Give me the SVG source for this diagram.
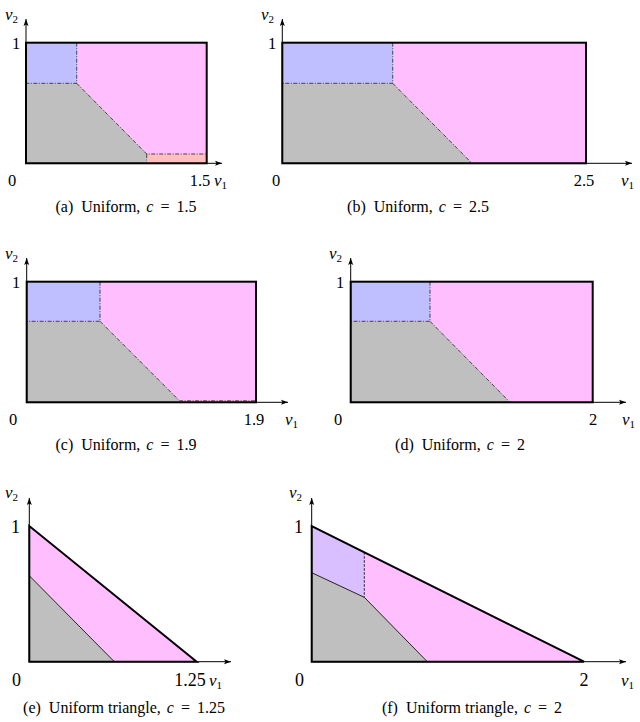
<svg xmlns="http://www.w3.org/2000/svg" width="640" height="722" viewBox="0 0 640 722">
<style>
.pink{fill:#FFBFFF}.blue{fill:#BFBFFF}.gray{fill:#BFBFBF}.salmon{fill:#FFBFBF}.lav{fill:#D9BFFF}
.frame{fill:none;stroke:#000;stroke-width:2}
.axis{fill:none;stroke:#000;stroke-width:1}
.dd{fill:none;stroke:#222;stroke-width:0.8;stroke-dasharray:4 1.5 1 1.5}
.sol{fill:none;stroke:#111;stroke-width:0.9}
.dash{fill:none;stroke:#111;stroke-width:0.9;stroke-dasharray:2.5 1.5}
text{font-family:"Liberation Serif","DejaVu Serif",serif;fill:#000}
.num{font-size:16.5px}
.big{font-size:18px}
.var{font-size:17px;font-style:italic}
.sub{font-size:11px;font-style:normal}
.cap{font-size:16px}
.it{font-style:italic}
</style>
<defs>
<marker id="ar" viewBox="0 0 8 6" refX="7" refY="3" markerWidth="8" markerHeight="6" markerUnits="userSpaceOnUse" orient="auto">
<path d="M0,0.5 L7,3 L0,5.5 L1.5,3 Z" fill="#000"/>
</marker>
</defs>

<g id="panel-a">
<rect class="pink" x="26" y="42.7" width="180.7" height="120.6"/>
<rect class="blue" x="26" y="42.7" width="50.7" height="40.6"/>
<polygon class="gray" points="26,83.3 76.7,83.3 146.7,154 146.7,163.3 26,163.3"/>
<rect class="salmon" x="146.7" y="154" width="60" height="9.3"/>
<path class="dd" d="M76.7,42.7V83.3H26M76.7,83.3L146.7,154H206.7M146.7,154V163.3"/>
<path class="axis" d="M26,163.3V19" marker-end="url(#ar)"/>
<path class="axis" d="M26,163.3H222" marker-end="url(#ar)"/>
<rect class="frame" x="26" y="42.7" width="180.7" height="120.6"/>
<text class="var" x="5" y="20">v<tspan class="sub" dy="3">2</tspan></text>
<text class="num" x="12" y="49">1</text>
<text class="num" x="8" y="186">0</text>
<text class="num" x="200" y="186" text-anchor="middle">1.5</text>
<text class="var" x="214" y="186">v<tspan class="sub" dy="3">1</tspan></text>
<text class="cap" x="126" y="212" text-anchor="middle">(a)<tspan dx="8">Uniform,</tspan><tspan class="it" dx="6">c</tspan><tspan dx="7">=</tspan><tspan dx="7">1.5</tspan></text>
</g>

<g id="panel-b">
<rect class="pink" x="282.3" y="42.7" width="303.7" height="120.6"/>
<rect class="blue" x="282.3" y="42.7" width="110.4" height="40.6"/>
<polygon class="gray" points="282.3,83.3 392.7,83.3 472,163.3 282.3,163.3"/>
<path class="dd" d="M392.7,42.7V83.3H282.3M392.7,83.3L472,163.3"/>
<path class="axis" d="M282.3,163.3V19" marker-end="url(#ar)"/>
<path class="axis" d="M282.3,163.3H632" marker-end="url(#ar)"/>
<rect class="frame" x="282.3" y="42.7" width="303.7" height="120.6"/>
<text class="var" x="261" y="20">v<tspan class="sub" dy="3">2</tspan></text>
<text class="num" x="268" y="49">1</text>
<text class="num" x="272" y="186">0</text>
<text class="num" x="584" y="186" text-anchor="middle">2.5</text>
<text class="var" x="621" y="186">v<tspan class="sub" dy="3">1</tspan></text>
<text class="cap" x="418" y="212" text-anchor="middle">(b)<tspan dx="8">Uniform,</tspan><tspan class="it" dx="6">c</tspan><tspan dx="7">=</tspan><tspan dx="7">2.5</tspan></text>
</g>

<g id="panel-c">
<rect class="pink" x="26.7" y="281.7" width="229.3" height="120.6"/>
<rect class="blue" x="26.7" y="281.7" width="73.3" height="39.6"/>
<polygon class="gray" points="26.7,321.3 100,321.3 179.5,400.8 179.5,402.3 26.7,402.3"/>
<rect class="salmon" x="179.5" y="400.8" width="76.5" height="1.5"/>
<path class="dd" d="M100,281.7V321.3H26.7M100,321.3L179.5,400.8H256"/>
<path class="axis" d="M26.7,402.3V258" marker-end="url(#ar)"/>
<path class="axis" d="M26.7,402.3H288" marker-end="url(#ar)"/>
<rect class="frame" x="26.7" y="281.7" width="229.3" height="120.6"/>
<text class="var" x="5" y="259">v<tspan class="sub" dy="3">2</tspan></text>
<text class="num" x="12" y="288">1</text>
<text class="num" x="9" y="425">0</text>
<text class="num" x="254" y="425" text-anchor="middle">1.9</text>
<text class="var" x="285" y="425">v<tspan class="sub" dy="3">1</tspan></text>
<text class="cap" x="126" y="450" text-anchor="middle">(c)<tspan dx="8">Uniform,</tspan><tspan class="it" dx="6">c</tspan><tspan dx="7">=</tspan><tspan dx="7">1.9</tspan></text>
</g>

<g id="panel-d">
<rect class="pink" x="350.7" y="281.7" width="242" height="120.6"/>
<rect class="blue" x="350.7" y="281.7" width="79.3" height="39.6"/>
<polygon class="gray" points="350.7,321.3 430,321.3 510,402.3 350.7,402.3"/>
<path class="dd" d="M430,281.7V321.3H350.7M430,321.3L510,402.3"/>
<path class="axis" d="M350.7,402.3V258" marker-end="url(#ar)"/>
<path class="axis" d="M350.7,402.3H626" marker-end="url(#ar)"/>
<rect class="frame" x="350.7" y="281.7" width="242" height="120.6"/>
<text class="var" x="329" y="259">v<tspan class="sub" dy="3">2</tspan></text>
<text class="num" x="336" y="288">1</text>
<text class="num" x="334" y="425">0</text>
<text class="num" x="593" y="425" text-anchor="middle">2</text>
<text class="var" x="622" y="425">v<tspan class="sub" dy="3">1</tspan></text>
<text class="cap" x="460" y="450" text-anchor="middle">(d)<tspan dx="8">Uniform,</tspan><tspan class="it" dx="6">c</tspan><tspan dx="7">=</tspan><tspan dx="7">2</tspan></text>
</g>

<g id="panel-e">
<polygon class="pink" points="29.3,526 196.7,661.7 29.3,661.7"/>
<polygon class="gray" points="29.3,575.7 114.3,661.7 29.3,661.7"/>
<path class="sol" d="M29.3,575.7L114.3,661.7"/>
<path class="axis" d="M29.3,661.7V498" marker-end="url(#ar)"/>
<path class="axis" d="M29.3,661.7H231" marker-end="url(#ar)"/>
<path class="frame" d="M29.3,661.7V526L196.7,661.7Z"/>
<text class="var" x="5" y="498">v<tspan class="sub" dy="3">2</tspan></text>
<text class="big" x="11" y="533">1</text>
<text class="big" x="12" y="686">0</text>
<text class="big" x="190" y="686" text-anchor="middle">1.25</text>
<text class="var" x="209" y="686">v<tspan class="sub" dy="3">1</tspan></text>
<text class="cap" x="124" y="713" text-anchor="middle">(e)<tspan dx="8">Uniform triangle,</tspan><tspan class="it" dx="6">c</tspan><tspan dx="7">=</tspan><tspan dx="7">1.25</tspan></text>
</g>

<g id="panel-f">
<polygon class="pink" points="311.7,526 584,661.7 311.7,661.7"/>
<polygon class="lav" points="311.7,526 364.3,552.2 364.3,597.3 311.7,572.7"/>
<polygon class="gray" points="311.7,572.7 364.3,597.3 427.3,661.7 311.7,661.7"/>
<path class="sol" d="M311.7,572.7L364.3,597.3L427.3,661.7"/>
<path class="dash" d="M364.3,552.2V597.3"/>
<path class="axis" d="M311.7,661.7V498" marker-end="url(#ar)"/>
<path class="axis" d="M311.7,661.7H626" marker-end="url(#ar)"/>
<path class="frame" d="M311.7,661.7V526L584,661.7Z"/>
<text class="var" x="289" y="498">v<tspan class="sub" dy="3">2</tspan></text>
<text class="big" x="294" y="533">1</text>
<text class="big" x="295" y="686">0</text>
<text class="big" x="584" y="686" text-anchor="middle">2</text>
<text class="var" x="621" y="686">v<tspan class="sub" dy="3">1</tspan></text>
<text class="cap" x="472" y="713" text-anchor="middle">(f)<tspan dx="8">Uniform triangle,</tspan><tspan class="it" dx="6">c</tspan><tspan dx="7">=</tspan><tspan dx="7">2</tspan></text>
</g>
</svg>
